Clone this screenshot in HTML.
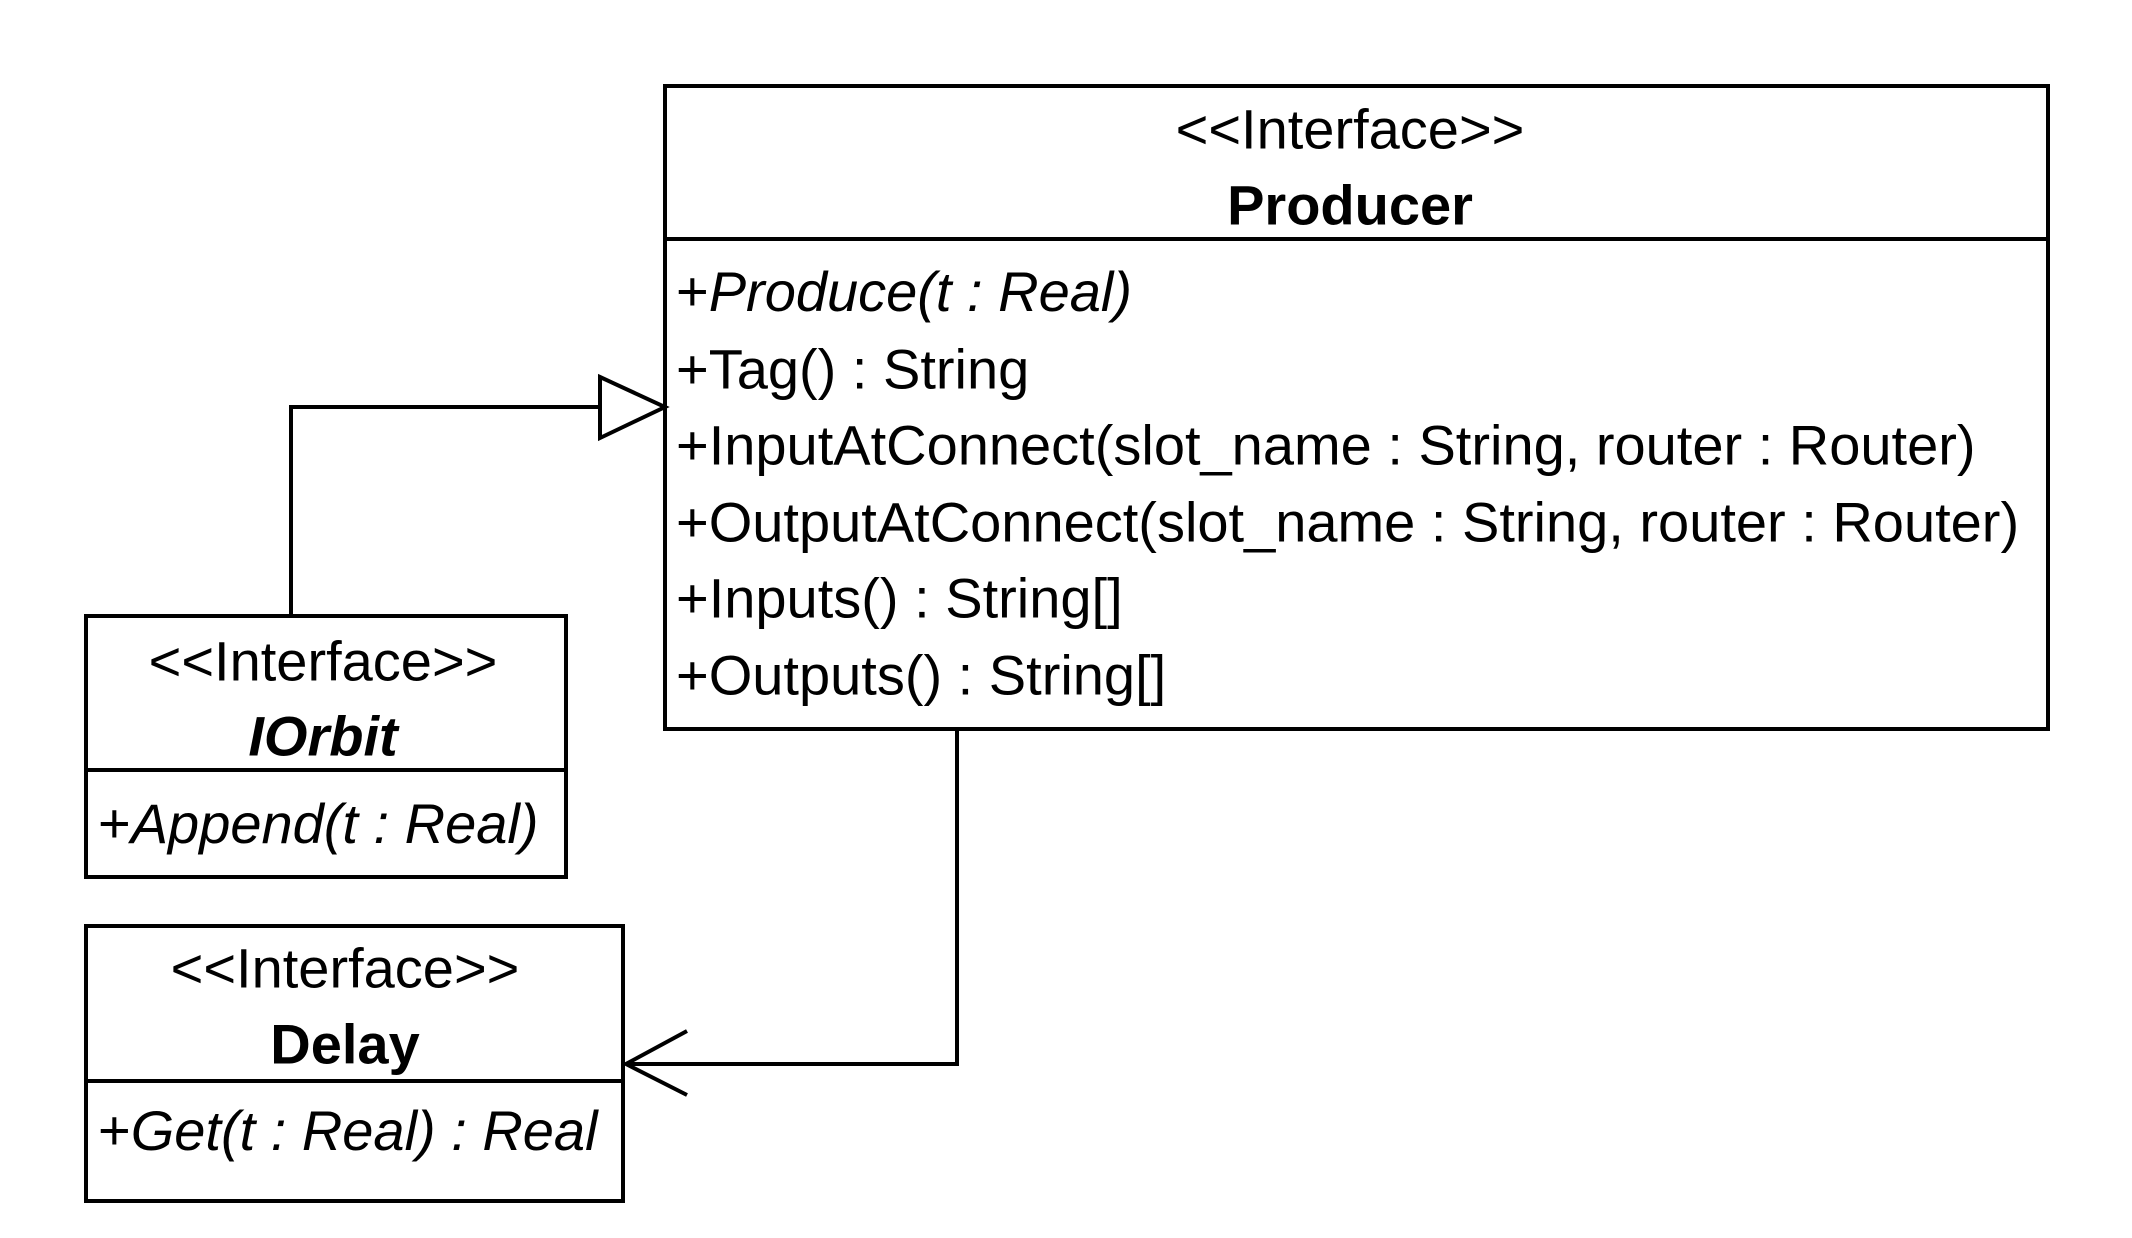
<!DOCTYPE html>
<html><head><meta charset="utf-8"><style>
html,body{margin:0;padding:0;background:#fff;}
svg{display:block;}
text{font-family:"Liberation Sans",Arial,sans-serif;font-size:56px;fill:#000;dominant-baseline:central;}
.c{text-anchor:middle;}
.b{font-weight:bold;}
.i{font-style:italic;}
</style></head><body>
<svg width="2132" height="1238" viewBox="0 0 2132 1238" xmlns="http://www.w3.org/2000/svg">
<g fill="none" stroke="#000" stroke-width="4">
<rect x="665" y="86" width="1383" height="643"/>
<line x1="665" y1="239" x2="2048" y2="239"/>
<rect x="86" y="616" width="480" height="261"/>
<line x1="86" y1="770" x2="566" y2="770"/>
<rect x="86" y="926" width="537" height="275"/>
<line x1="86" y1="1081" x2="623" y2="1081"/>
<polyline points="291,616 291,407 600,407"/>
<polygon points="600,377 665,407 600,438"/>
<polyline points="957,731 957,1064 626,1064"/>
<polyline points="687,1031 626,1064 687,1095"/>
</g>
<text class="c" x="1350" y="129">&lt;&lt;Interface&gt;&gt;</text>
<text class="c b" x="1350" y="205">Producer</text>
<text x="676" y="291">+<tspan class="i">Produce(t : Real)</tspan></text>
<text x="676" y="369">+Tag() : String</text>
<text x="676" y="445">+InputAtConnect(slot_name : String, router : Router)</text>
<text x="676" y="522">+OutputAtConnect(slot_name : String, router : Router)</text>
<text x="676" y="598">+Inputs() : String[]</text>
<text x="676" y="675">+Outputs() : String[]</text>
<text class="c" x="323" y="661">&lt;&lt;Interface&gt;&gt;</text>
<text class="c b i" x="323" y="736">IOrbit</text>
<text x="98" y="823">+<tspan class="i">Append(t : Real)</tspan></text>
<text class="c" x="345" y="968">&lt;&lt;Interface&gt;&gt;</text>
<text class="c b" x="345" y="1044">Delay</text>
<text x="98" y="1130">+<tspan class="i">Get(t : Real) : Real</tspan></text>
</svg>
</body></html>
